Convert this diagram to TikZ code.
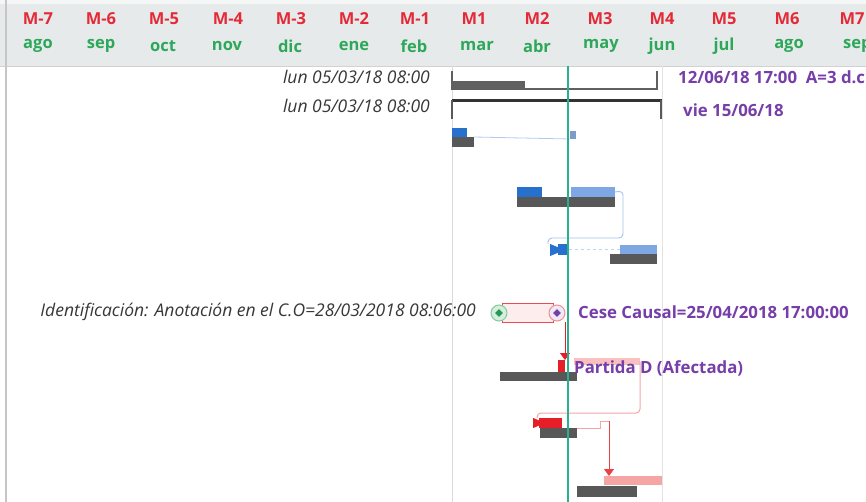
\documentclass[tikz,border=0pt]{standalone}
\usepackage{fontspec}
\setmainfont{Open Sans}
\usetikzlibrary{arrows.meta,shapes.geometric}
\definecolor{hred}{RGB}{228,42,55}
\definecolor{hgreen}{RGB}{45,168,90}
\definecolor{hdr}{RGB}{230,234,234}
\definecolor{purp}{RGB}{118,62,168}
\definecolor{bargray}{RGB}{88,88,88}
\definecolor{blu}{RGB}{40,112,205}
\definecolor{lblu}{RGB}{125,168,228}
\definecolor{teal}{RGB}{40,178,140}
\definecolor{pinkc}{RGB}{246,165,165}
\definecolor{redc}{RGB}{230,30,40}
\definecolor{itgray}{RGB}{55,55,55}
\begin{document}
\begin{tikzpicture}[x=1pt,y=-1pt,
  mh/.style={font=\fontsize{16.5}{18}\selectfont\bfseries, text=hred, inner sep=0},
  mo/.style={font=\fontsize{16.5}{18}\selectfont\bfseries, text=hgreen, inner sep=0},
  itx/.style={font=\fontsize{17.5}{19}\selectfont\itshape, text=itgray, inner sep=0},
  ptx/.style={font=\fontsize{16.8}{19}\selectfont\bfseries, text=purp, inner sep=0},
  bar/.style={draw=none, inner sep=0, outer sep=0, anchor=north west},
  mk/.style={circle, inner sep=0, minimum size=16, line width=1},
  dia/.style={diamond, inner sep=0, minimum size=8}]
\useasboundingbox (0,0) rectangle (866,502);
\fill[white] (0,0) rectangle (866,502);
% header
\fill[hdr] (0,0) rectangle (866,66);
\fill[white!60!hdr] (0,0) rectangle (866,4);
\foreach \x in {68,133,196,259,322,385,445,506,568,630,693,756,819}
  \draw[gray!18, line width=0.6] (\x,4) -- (\x,66);
\draw[gray!35] (0,66) -- (866,66);
\node[mh] (h1) at (38,19) {M-7};
\node[mh] (h2) at (101,19) {M-6};
\node[mh] (h3) at (164,19) {M-5};
\node[mh] (h4) at (228,19) {M-4};
\node[mh] (h5) at (291,19) {M-3};
\node[mh] (h6) at (354,19) {M-2};
\node[mh] (h7) at (415,19) {M-1};
\node[mh] (h8) at (474,19) {M1};
\node[mh] (h9) at (537,19) {M2};
\node[mh] (h10) at (600,19) {M3};
\node[mh] (h11) at (662,19) {M4};
\node[mh] (h12) at (724,19) {M5};
\node[mh] (h13) at (787,19) {M6};
\node[mh] (h14) at (852,19) {M7};
\node[mo] (n1) at (38,46) {ago};
\node[mo] (n2) at (101,46) {sep};
\node[mo] (n3) at (163,46) {oct};
\node[mo] (n4) at (227,46) {nov};
\node[mo] (n5) at (290,46) {dic};
\node[mo] (n6) at (354,46) {ene};
\node[mo] (n7) at (414,46) {feb};
\node[mo] (n8) at (477,46) {mar};
\node[mo] (n9) at (537,46) {abr};
\node[mo] (n10) at (601,46) {may};
\node[mo] (n11) at (662,46) {jun};
\node[mo] (n12) at (724,46) {jul};
\node[mo] (n13) at (789,46) {ago};
\node[mo, anchor=west] (n14) at (843,46) {sep};
% left border and grid lines
\draw[gray!45, line width=2] (6,0) -- (6,502);
\draw[gray!28, line width=0.8] (452,66) -- (452,502);
\draw[gray!22, line width=0.8] (662,66) -- (662,502);
% row 1
\node[itx, anchor=east] (t1) at (430,77) {lun 05/03/18 08:00};
\node[bar, fill=gray!75!black, minimum width=73, minimum height=8] (s1) at (452,81) {};
\draw[gray!75!black, line width=1.6] (452,71) -- (452,89) -- (657,89) -- (657,71);
\node[ptx, anchor=west] (d1) at (678,77) {12/06/18 17:00\ \ A=3 d.c};
% row 2
\node[itx, anchor=east] (t2) at (430,106) {lun 05/03/18 08:00};
\draw[gray!40!black, line width=3] (452,101) -- (662,101);
\draw[gray!70!black, line width=2] (452,100) -- (452,119);
\draw[gray!70!black, line width=2] (661,100) -- (661,119);
\node[ptx, anchor=west] (d2) at (683,110) {vie 15/06/18};
% row 3
\node[bar, fill=blu, minimum width=15, minimum height=9] (b3a) at (452,128) {};
\node[bar, fill=bargray, minimum width=22, minimum height=10] (b3) at (452,137) {};
\node[bar, fill=lblu!70!gray, minimum width=6, minimum height=8] (m3) at (570,131) {};
\draw[lblu!60, line width=0.8] (b3.north east) -- (m3.south west);
% row 4
\node[bar, fill=blu, minimum width=25, minimum height=10] (b4a) at (517,187) {};
\node[bar, fill=lblu, minimum width=44, minimum height=10] (b4b) at (571,187) {};
\node[bar, fill=bargray, minimum width=98, minimum height=10] (b4) at (517,197) {};
% row 5
\node[isosceles triangle, fill=blu, inner sep=0, minimum width=12, minimum height=8, anchor=west] (tr5) at (550,250) {};
\node[bar, fill=blu, minimum width=11, minimum height=11] (m5) at (558,244) {};
\node[bar, fill=lblu, minimum width=37, minimum height=9] (b5b) at (620,245) {};
\node[bar, fill=bargray, minimum width=47, minimum height=10] (b5) at (610,254) {};
\draw[lblu!70, line width=0.9, rounded corners=4] (b4b.east) -- (623,191) -- (623,238) -- (548,238) -- (548,244);
\draw[lblu!50, line width=0.8, dashed] (m5.east) -- (b5b.west |- m5.east);
% row 6 (annotation)
\node[itx, anchor=east] (t6) at (476,312) {Identificación: Anotación en el C.O=28/03/2018 08:06:00};
\node[draw=redc!80, fill=pinkc!20, line width=0.9, minimum width=51, minimum height=19, inner sep=0, anchor=west] (rr) at (502,313) {};
\node[mk, draw=hgreen!60, fill=hgreen!20] (g6) at (499,313) {};
\node[dia, fill=hgreen!90!black] (g6d) at (g6) {};
\node[mk, draw=redc!50, fill=purp!12] (p6) at (557,313) {};
\node[dia, fill=purp] (p6d) at (p6) {};
\node[ptx, anchor=west] (c6) at (578,312) {Cese Causal=25/04/2018 17:00:00};
% row 7 (Partida D)
\node[bar, fill=pinkc!70, minimum width=66, minimum height=7] (pd) at (574,358) {};
\node[bar, fill=redc, minimum width=7, minimum height=14] (r7) at (558,360) {};
\node[bar, fill=bargray, minimum width=77, minimum height=9] (b7) at (500,372) {};
\node[ptx, anchor=west] (c7) at (574,368) {Partida D (Afectada)};
\draw[redc, line width=1, -{Triangle[width=10,length=7]}] (565,322) -- (r7.north -| 565,0);
% row 8
\draw[pinkc, line width=1, rounded corners=4] (pd.east) -- (640,413) -- (537,413) -- (537,418);
\node[isosceles triangle, fill=redc, inner sep=0, minimum width=10, minimum height=6, anchor=west] (tr8) at (533,423) {};
\node[bar, fill=redc, minimum width=23, minimum height=10] (r8) at (539,418) {};
\node[bar, fill=bargray, minimum width=37, minimum height=10] (b8) at (540,428) {};
% row 9
\node[bar, fill=pinkc, minimum width=58, minimum height=9] (pk9) at (604,476) {};
\node[bar, fill=bargray, minimum width=60, minimum height=11] (b9) at (577,486) {};
\draw[pinkc, line width=0.9] (b8.north east) -- (600,428) -- (600,421) -- (609,421);
\draw[redc!85, line width=1, -{Triangle[width=10,length=7]}] (609,421) -- (pk9.north -| 609,0);
% today line
\draw[teal, line width=1.3] (568,66) -- (568,502);
\end{tikzpicture}
\end{document}
